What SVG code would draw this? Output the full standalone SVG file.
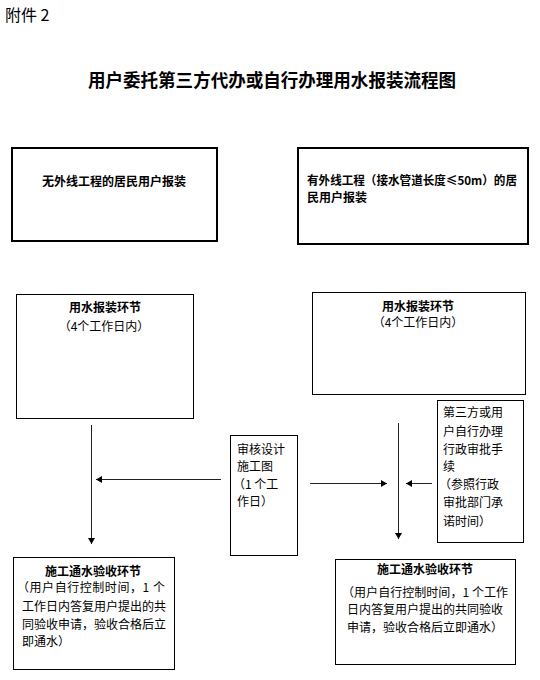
<svg xmlns="http://www.w3.org/2000/svg" width="540" height="680" viewBox="0 0 540 680">
<style>
text{font-family:"Noto Sans CJK SC","Liberation Sans",sans-serif;fill:#000;}
.t{font-size:12px;}
.b{font-size:12px;font-weight:bold;}
.c{text-anchor:middle;}
.box{fill:#fff;stroke:#000;stroke-width:1;}
.box2{fill:#fff;stroke:#000;stroke-width:2;}
.ln{stroke:#222;stroke-width:1;fill:none;marker-end:url(#ah);}
</style>
<defs>
<marker id="ah" markerUnits="userSpaceOnUse" markerWidth="7" markerHeight="7" refX="6" refY="3.5" orient="auto">
<path d="M0,0 L6,3.5 L0,7 Z" fill="#000"/>
</marker>
</defs>
<rect width="540" height="680" fill="#fff"/>
<text x="5" y="21" style="font-size:16px">附件 2</text>
<text x="88" y="87" textLength="368" lengthAdjust="spacingAndGlyphs" style="font-size:18px;font-weight:bold">用户委托第三方代办或自行办理用水报装流程图</text>

<g id="n_top_left">
<rect class="box2" x="12" y="148" width="205" height="93"/>
<text class="b" x="42" y="186">无外线工程的居民用户报装</text>
</g>
<g id="n_top_right">
<rect class="box2" x="298" y="148" width="230" height="96"/>
<text class="b" x="307" y="185" textLength="210" lengthAdjust="spacingAndGlyphs">有外线工程（接水管道长度≤50m）的居</text>
<text class="b" x="307" y="202">民用户报装</text>
</g>
<g id="n_mid_left">
<rect class="box" x="16.5" y="294.5" width="177" height="124"/>
<text class="b c" x="105" y="312">用水报装环节</text>
<text class="t c" x="104" y="331">（4个工作日内）</text>
</g>
<g id="n_mid_right">
<rect class="box" x="312.5" y="292.5" width="213" height="102"/>
<text class="b c" x="418" y="311">用水报装环节</text>
<text class="t c" x="418" y="327">（4个工作日内）</text>
</g>
<g id="n_review">
<rect class="box" x="230.5" y="435.5" width="67" height="120"/>
<text class="t" x="237" y="454">审核设计</text>
<text class="t" x="237" y="471">施工图</text>
<text class="t" x="233" y="489">（1 个工</text>
<text class="t" x="237" y="506">作日）</text>
</g>
<g id="n_admin">
<rect class="box" x="437.5" y="400.5" width="86" height="142"/>
<text class="t" x="443" y="417">第三方或用</text>
<text class="t" x="443" y="436">户自行办理</text>
<text class="t" x="443" y="454">行政审批手</text>
<text class="t" x="443" y="471">续</text>
<text class="t" x="439" y="489">（参照行政</text>
<text class="t" x="443" y="507">审批部门承</text>
<text class="t" x="443" y="526">诺时间）</text>
</g>
<g id="n_bottom_left">
<rect class="box" x="13.5" y="557.5" width="161" height="112"/>
<text class="b c" x="93" y="576">施工通水验收环节</text>
<text class="t" x="17" y="592" textLength="148" lengthAdjust="spacing">（用户自行控制时间，1 个</text>
<text class="t" x="22" y="611">工作日内答复用户提出的共</text>
<text class="t" x="22" y="629">同验收申请，验收合格后立</text>
<text class="t" x="22" y="646">即通水）</text>
</g>
<g id="n_bottom_right">
<rect class="box" x="335.5" y="559.5" width="180" height="105"/>
<text class="b c" x="425" y="574">施工通水验收环节</text>
<text class="t" x="342" y="597" textLength="166" lengthAdjust="spacing">（用户自行控制时间，1 个工作</text>
<text class="t" x="347" y="614">日内答复用户提出的共同验收</text>
<text class="t" x="347" y="632">申请，验收合格后立即通水）</text>
</g>

<g id="connectors">
<line class="ln" x1="91.5" y1="425" x2="91.5" y2="544"/>
<line class="ln" x1="221" y1="479.5" x2="96" y2="479.5"/>
<line class="ln" x1="310" y1="483.5" x2="387" y2="483.5"/>
<line class="ln" x1="432" y1="483.5" x2="406" y2="483.5"/>
<line class="ln" x1="398.5" y1="423" x2="398.5" y2="539"/>
</g>
</svg>
